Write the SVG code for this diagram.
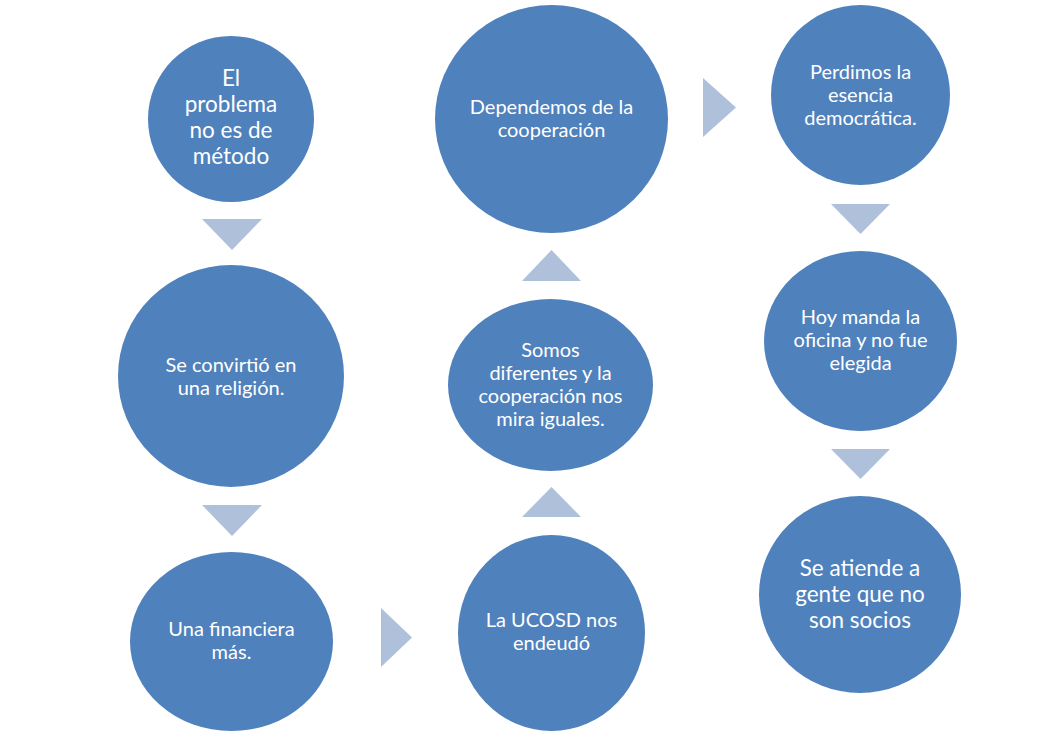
<svg xmlns="http://www.w3.org/2000/svg" width="1063" height="740" viewBox="0 0 1063 740">
<style>
.node{fill:#4F81BD;}
.arr{fill:#AFC0DB;}
.t{fill:#FFFFFF;font-family:Lato,"Liberation Sans",sans-serif;font-size:20px;text-anchor:middle;}
.big{font-size:22.5px;}
</style>
<rect width="1063" height="740" fill="#FFFFFF"/>
<g id="connectors">
<polygon class="arr" points="202,219 262,219 232,250"/>
<polygon class="arr" points="202,505 262,505 232,536"/>
<polygon class="arr" points="381,608 412,637.5 381,667"/>
<polygon class="arr" points="522,517 581,517 551.5,487"/>
<polygon class="arr" points="522,281 581,281 551.5,250"/>
<polygon class="arr" points="703,78 736,107.5 703,137"/>
<polygon class="arr" points="831,204 890,204 860.5,234"/>
<polygon class="arr" points="831,449 890,449 860.5,479"/>
</g>
<g id="n1">
<ellipse class="node" cx="231" cy="119" rx="83" ry="83"/>
<text class="t big"><tspan x="231" y="86">El</tspan><tspan x="231" y="112">problema</tspan><tspan x="231" y="138">no es de</tspan><tspan x="231" y="164">método</tspan></text>
</g>
<g id="n2">
<ellipse class="node" cx="231" cy="376" rx="113" ry="111"/>
<text class="t"><tspan x="231" y="372">Se convirtió en</tspan><tspan x="231" y="395">una religión.</tspan></text>
</g>
<g id="n3">
<ellipse class="node" cx="231.5" cy="641.5" rx="101.5" ry="89.5"/>
<text class="t"><tspan x="231.5" y="636">Una financiera</tspan><tspan x="231.5" y="659">más.</tspan></text>
</g>
<g id="n4">
<ellipse class="node" cx="551.5" cy="633" rx="93.5" ry="98"/>
<text class="t"><tspan x="551.5" y="627">La UCOSD nos</tspan><tspan x="551.5" y="650">endeudó</tspan></text>
</g>
<g id="n5">
<ellipse class="node" cx="550.5" cy="385" rx="102.5" ry="86"/>
<text class="t"><tspan x="550.5" y="357">Somos</tspan><tspan x="550.5" y="380">diferentes y la</tspan><tspan x="550.5" y="403">cooperación nos</tspan><tspan x="550.5" y="426">mira iguales.</tspan></text>
</g>
<g id="n6">
<ellipse class="node" cx="551.5" cy="119" rx="116.5" ry="114"/>
<text class="t"><tspan x="551.5" y="114">Dependemos de la</tspan><tspan x="551.5" y="137">cooperación</tspan></text>
</g>
<g id="n7">
<ellipse class="node" cx="860.5" cy="95" rx="89.5" ry="90"/>
<text class="t"><tspan x="860.5" y="79">Perdimos la</tspan><tspan x="860.5" y="102">esencia</tspan><tspan x="860.5" y="125">democrática.</tspan></text>
</g>
<g id="n8">
<ellipse class="node" cx="860.5" cy="341" rx="96.5" ry="90"/>
<text class="t"><tspan x="860.5" y="324">Hoy manda la</tspan><tspan x="860.5" y="347">oficina y no fue</tspan><tspan x="860.5" y="370">elegida</tspan></text>
</g>
<g id="n9">
<ellipse class="node" cx="860" cy="594.5" rx="101" ry="98.5"/>
<text class="t big"><tspan x="860" y="576">Se atiende a</tspan><tspan x="860" y="602">gente que no</tspan><tspan x="860" y="628">son socios</tspan></text>
</g>
</svg>
